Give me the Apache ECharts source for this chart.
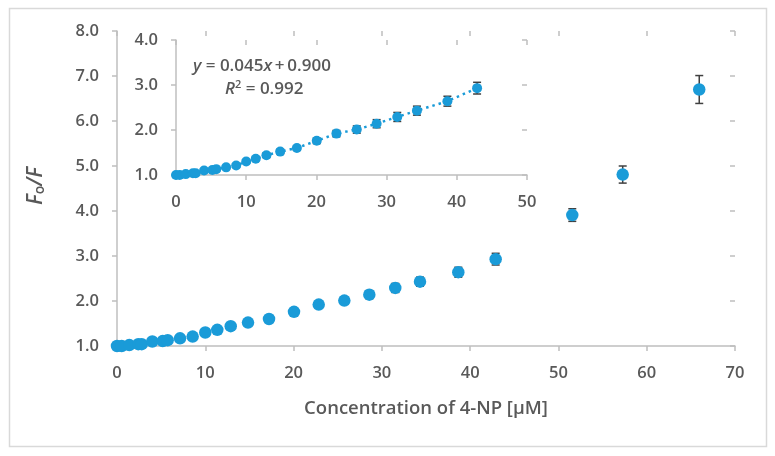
<!DOCTYPE html>
<html>
<head>
<meta charset="utf-8">
<script src="https://cdn.jsdelivr.net/npm/echarts@6/dist/echarts.min.js"></script>
<style>html,body{margin:0;padding:0;background:#fff;}#c{width:775px;height:456px;}</style>
</head>
<body>
<div id="c"></div>
<script>
// Data
var conc = [0, 0.53, 1.39, 2.41, 2.80, 4.0, 5.18, 5.74, 7.14, 8.57, 10.0, 11.36, 12.88, 14.84, 17.22, 20.05, 22.85, 25.75, 28.58, 31.52, 34.32, 38.66, 42.89, 51.57, 57.28, 65.95];
var ratio = [1.00, 1.00, 1.02, 1.04, 1.04, 1.10, 1.11, 1.13, 1.17, 1.21, 1.30, 1.36, 1.44, 1.52, 1.60, 1.76, 1.92, 2.01, 2.14, 2.29, 2.43, 2.64, 2.93, 3.91, 4.81, 6.70];
var errs = [0.02, 0.02, 0.02, 0.02, 0.02, 0.03, 0.03, 0.03, 0.03, 0.04, 0.04, 0.04, 0.05, 0.05, 0.05, 0.06, 0.07, 0.08, 0.09, 0.10, 0.10, 0.11, 0.13, 0.14, 0.19, 0.31];
var insetMaxX = 43; // inset shows the linear range
var eqSlope = '0.045';
var eqIntercept = '0.900';
var r2 = '0.992';

var blue = '#1a9bd8';
var gray = '#595959';
var axisGray = '#bfbfbf';

var mainPts = [], insetPts = [], mainErr = [], insetErr = [];
for (var i = 0; i < conc.length; i++) {
  mainPts.push([conc[i], ratio[i]]);
  mainErr.push([conc[i], ratio[i], errs[i]]);
  if (conc[i] <= insetMaxX) {
    insetPts.push([conc[i], ratio[i]]);
    insetErr.push([conc[i], ratio[i], errs[i]]);
  }
}

function errRender(params, api) {
  var x = api.value(0), y = api.value(1), e = api.value(2);
  var top = api.coord([x, y + e]);
  var bot = api.coord([x, y - e]);
  var w = 4;
  var st = {stroke: '#404040', lineWidth: 1.5};
  return {type: 'group', children: [
    {type: 'line', shape: {x1: top[0], y1: top[1], x2: bot[0], y2: bot[1]}, style: st},
    {type: 'line', shape: {x1: top[0]-w, y1: top[1], x2: top[0]+w, y2: top[1]}, style: st},
    {type: 'line', shape: {x1: bot[0]-w, y1: bot[1], x2: bot[0]+w, y2: bot[1]}, style: st}
  ]};
}

var labelFont = {color: gray, fontSize: 16.5, fontFamily: 'Open Sans', fontWeight: 600};
var lineSt = {color: axisGray, width: 1.5};

function mkX(grid, max, inside, show) {
  return {
    type: 'value', gridIndex: grid, min: 0, max: max, interval: 10,
    splitLine: {show: false},
    axisLine: {show: show, lineStyle: lineSt, onZero: false},
    axisTick: {show: true, inside: inside, length: 5, lineStyle: lineSt},
    axisLabel: Object.assign({show: show, margin: 19}, labelFont)
  };
}
function mkY(grid, min, max, inside, show) {
  return {
    type: 'value', gridIndex: grid, min: min, max: max, interval: 1,
    splitLine: {show: false},
    axisLine: {show: show, lineStyle: lineSt, onZero: false},
    axisTick: {show: true, inside: inside, length: 5, lineStyle: lineSt},
    axisLabel: Object.assign({show: show, margin: 18, formatter: function(v){return v.toFixed(1);}}, labelFont)
  };
}

var eqI = {fontSize: 17, fontStyle: 'italic', fill: gray, fontFamily: 'Open Sans', fontWeight: 600};
var eqN = {fontSize: 17, fill: gray, fontFamily: 'Open Sans', fontWeight: 600};

var chart = echarts.init(document.getElementById('c'), null, {renderer: 'canvas'});
chart.setOption({
  backgroundColor: '#fff',
  animation: false,
  grid: [
    {left: 117, width: 618, top: 31, height: 315},
    {left: 176, width: 351, top: 40, height: 135}
  ],
  xAxis: [mkX(0, 70, false, true), mkX(0, 70, true, false), mkX(1, 50, false, true), mkX(1, 50, true, false)],
  yAxis: [mkY(0, 1, 8, false, true), mkY(0, 1, 8, true, false), mkY(1, 1, 4, false, true), mkY(1, 1, 4, true, false)],
  graphic: [
    {type: 'rect', shape: {x: 9.5, y: 8.5, width: 757, height: 438}, style: {fill: 'none', stroke: '#d9d9d9', lineWidth: 1.5}, z: -10},
    {type: 'text', x: 426, y: 409, style: {text: 'Concentration of 4-NP [µM]', fill: gray, font: '600 18.5px "Open Sans"', textAlign: 'center', textVerticalAlign: 'middle'}},
    {type: 'text', x: 36, y: 186, rotation: Math.PI/2,
      style: {text: '{i|F}{s|o}{i|/F}', textAlign: 'center', textVerticalAlign: 'middle',
        rich: {i: {fontSize: 21, fontStyle: 'italic', fill: gray, fontFamily: 'Open Sans', fontWeight: 600},
               s: {fontSize: 14, fill: gray, fontFamily: 'Open Sans', fontWeight: 600, padding: [9,0,0,0]}}}},
    {type: 'text', x: 193, y: 66,
      style: {text: '{i|y}{n| = ' + eqSlope + '}{i|x}{n|\u2009+\u2009' + eqIntercept + '}', textVerticalAlign: 'middle',
        rich: {i: eqI, n: eqN}}},
    {type: 'text', x: 225, y: 89,
      style: {text: '{i|R}{s|2}{n| = ' + r2 + '}', textVerticalAlign: 'middle',
        rich: {i: eqI,
               s: {fontSize: 11, fill: gray, fontFamily: 'Open Sans', fontWeight: 600, padding: [0,0,8,0]},
               n: eqN}}}
  ],
  series: [
    {type: 'custom', xAxisIndex: 0, yAxisIndex: 0, data: mainErr, renderItem: errRender, z: 1},
    {type: 'scatter', xAxisIndex: 0, yAxisIndex: 0, data: mainPts, symbolSize: 12.5, itemStyle: {color: blue, opacity: 1}, z: 2},
    {type: 'custom', xAxisIndex: 2, yAxisIndex: 2, data: insetErr, renderItem: errRender, z: 3},
    {type: 'line', xAxisIndex: 2, yAxisIndex: 2, data: insetPts, symbol: 'circle', symbolSize: 10, showSymbol: true,
      lineStyle: {color: blue, width: 2.5, type: [2.5, 4]}, itemStyle: {color: blue, opacity: 1}, z: 4}
  ]
});
</script>
</body>
</html>
